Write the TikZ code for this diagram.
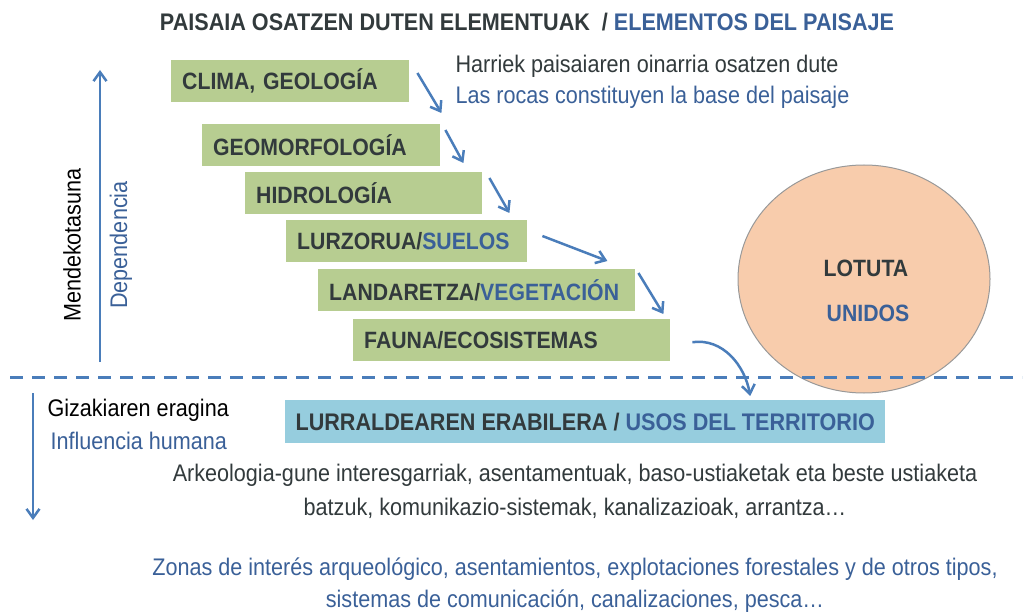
\documentclass[tikz,border=0pt]{standalone}
\usepackage{xcolor}
\usepackage{fontspec}
\setmainfont[FakeStretch=0.9]{Liberation Sans}
\usepackage{tikz}
\usetikzlibrary{shapes.geometric, arrows.meta, positioning, calc}

\definecolor{boxgreen}{RGB}{183,205,145}
\definecolor{boxblue}{RGB}{150,205,222}
\definecolor{darktxt}{RGB}{50,58,60}
\definecolor{bluetxt}{RGB}{58,96,152}
\definecolor{arrowblue}{RGB}{74,125,186}
\definecolor{peach}{RGB}{248,204,172}

\begin{document}
\begin{tikzpicture}[
  x=1pt, y=-1pt,
  box/.style={rectangle, fill=boxgreen, anchor=north west, minimum height=42pt, inner xsep=11pt, text width=#1, align=left, text=darktxt, font=\bfseries\fontsize{23.6}{26}\selectfont},
  txt/.style={font=\fontsize{24}{34}\selectfont, align=center},
  arrow/.style={-{Straight Barb[length=9pt,width=13pt]}, draw=arrowblue, line width=2.5pt}
]
  \useasboundingbox (0,0) rectangle (1027,612);

  % title
  \node[font=\bfseries\fontsize{24}{26}\selectfont, text=darktxt] (title) at (527,22)
    {PAISAIA OSATZEN DUTEN ELEMENTUAK \ / \textcolor{bluetxt}{ELEMENTOS DEL PAISAJE}};

  % staircase of elements
  \node[box=216pt] (clima) at (171,60) {CLIMA, GEOLOGÍA};
  \node[box=216pt] (geomorf) at (202,124) {GEOMORFOLOGÍA};
  \node[box=215pt] (hidro) at (245,172) {HIDROLOGÍA};
  \node[box=219pt] (lurzoru) at (286,220) {LURZORUA/\textcolor{bluetxt}{SUELOS}};
  \node[box=295pt] (landare) at (318,269) {LANDARETZA/\textcolor{bluetxt}{VEGETACIÓN}};
  \node[box=295pt] (fauna) at (353,319) {FAUNA/ECOSISTEMAS};

  \node[txt, anchor=west, text=darktxt] (harri) at (452,66) {Harriek paisaiaren oinarria osatzen dute};
  \node[txt, anchor=west, text=bluetxt] (rocas) at (452,97) {Las rocas constituyen la base del paisaje};

  \draw[arrow] ([shift={(8,13)}]clima.north east) -- ([shift={(1,-11)}]geomorf.north east);
  \draw[arrow] ([shift={(5,6)}]geomorf.north east) -- ([shift={(-19,-9)}]hidro.north east);
  \draw[arrow] ([shift={(7,6)}]hidro.north east) -- ([shift={(-18,-7)}]lurzoru.north east);
  \draw[arrow] ([shift={(15,16)}]lurzoru.north east) -- ([shift={(-28,-8)}]landare.north east);
  \draw[arrow] ([shift={(3,4)}]landare.north east) -- ([shift={(-7,-5)}]fauna.north east);

  % united
  \node[ellipse, draw=gray!80, line width=1pt, fill=peach, minimum width=252pt, minimum height=228pt] (lotu) at (864,279) {};
  \node[font=\bfseries\fontsize{23.6}{26}\selectfont, text=darktxt] (lotuta) at (866,268) {LOTUTA};
  \node[font=\bfseries\fontsize{23.6}{26}\selectfont, text=bluetxt] (unidos) at (868,313) {UNIDOS};

  % dependency axis
  \coordinate (depbot) at (100,362);
  \coordinate (deptop) at (100,70);
  \draw[arrow] (depbot) -- (deptop);
  \node[txt, rotate=90, text=black] (mendeko) at (72,245) {Mendekotasuna};
  \node[txt, rotate=90, text=bluetxt] (depend) at (121,245) {Dependencia};

  % divider
  \coordinate (dashL) at (10,377);
  \coordinate (dashR) at (1022,377);
  \draw[arrowblue, line width=3pt, dash pattern=on 13pt off 9pt] (dashL) -- (dashR);

  % human influence
  \node[rectangle, fill=boxblue, anchor=north west, minimum width=600pt, minimum height=43pt, text=darktxt, font=\bfseries\fontsize{24}{26}\selectfont] (usos) at (285,400)
    {LURRALDEAREN ERABILERA / \textcolor{bluetxt}{USOS DEL TERRITORIO}};
  \draw[arrow] ([shift={(22,2)}]fauna.east) to[out=8, in=100] ([shift={(165,-4)}]usos.north);

  \coordinate (gizatop) at (33,393);
  \coordinate (gizabot) at (33,520);
  \draw[arrow] (gizatop) -- (gizabot);
  \node[txt, anchor=west, text=black] (giza) at (44,410) {Gizakiaren eragina};
  \node[txt, anchor=west, text=bluetxt] (influ) at (47,441) {Influencia humana};

  \node[txt, text=darktxt] (arkeo) at (575,491)
    {Arkeologia-gune interesgarriak, asentamentuak, baso-ustiaketak eta beste ustiaketa\\
     batzuk, komunikazio-sistemak, kanalizazioak, arrantza\dots};
  \node[txt, text=bluetxt, font=\fontsize{24}{32}\selectfont] (zonas) at (575,585)
    {Zonas de interés arqueológico, asentamientos, explotaciones forestales y de otros tipos,\\
     sistemas de comunicación, canalizaciones, pesca\dots};
\end{tikzpicture}
\end{document}
